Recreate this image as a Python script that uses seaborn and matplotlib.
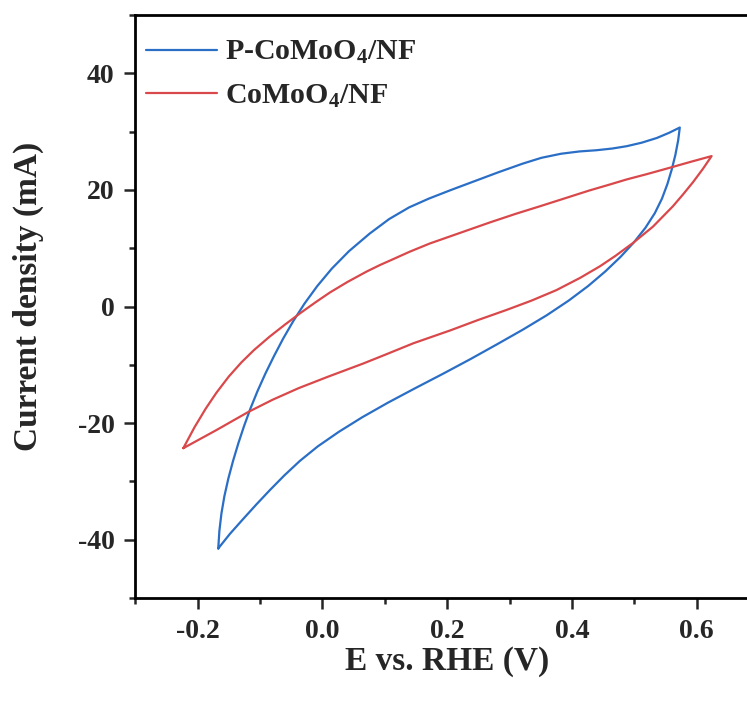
import numpy as np
import pandas as pd
import matplotlib
matplotlib.use("Agg")
import matplotlib.pyplot as plt
from matplotlib.ticker import MultipleLocator
import seaborn as sns

# Cyclic voltammograms (potential in V vs. RHE, current in mA), one closed loop each
p_label = "P-CoMoO$_4$/NF"
p_potential = [-0.1670, -0.1652, -0.1619, -0.1571, -0.1508, -0.1433, -0.1349, -0.1256,
               -0.1154, -0.1040, -0.0914, -0.0776, -0.0629, -0.0467, -0.0287, -0.0083,
               0.0151, 0.0427, 0.0757, 0.107, 0.139, 0.1705, 0.2065, 0.244, 0.2815,
               0.321, 0.351, 0.3825, 0.4125, 0.439, 0.465, 0.488, 0.512, 0.536, 0.556,
               0.573,
               0.5704, 0.5659, 0.5601, 0.5531, 0.5444, 0.5329, 0.5179, 0.4994, 0.4779,
               0.4534, 0.4259, 0.3947, 0.3597, 0.3209, 0.2797, 0.2377, 0.194, 0.149,
               0.105, 0.0638, 0.0263, -0.0075, -0.0363, -0.0613, -0.0843, -0.1063,
               -0.1275, -0.1483, -0.1670]
p_current = [-41.5, -38.5, -35.5, -32.5, -29.5, -26.5, -23.5, -20.5,
             -17.5, -14.5, -11.5, -8.5, -5.5, -2.5, 0.5, 3.5,
             6.5, 9.5, 12.5, 15.0, 17.0, 18.5, 20.0, 21.5, 23.0,
             24.5, 25.5, 26.2, 26.6, 26.8, 27.1, 27.5, 28.1, 28.9, 29.8,
             30.7,
             28.5, 26.0, 23.5, 21.0, 18.5, 16.0, 13.5, 11.0, 8.5,
             6.0, 3.5, 1.0, -1.5, -4.0, -6.5, -9.0, -11.5, -14.0,
             -16.5, -19.0, -21.5, -24.0, -26.5, -29.0, -31.5, -34.0,
             -36.5, -39.0, -41.5]

c_label = "CoMoO$_4$/NF"
c_potential = [-0.223, -0.205, -0.187, -0.170, -0.150, -0.130, -0.110, -0.085, -0.060,
               -0.035, -0.010, 0.012, 0.040, 0.071, 0.092, 0.113, 0.140, 0.172, 0.220,
               0.268, 0.310, 0.349, 0.390, 0.428, 0.460, 0.488, 0.520, 0.557, 0.590,
               0.624,
               0.610, 0.594, 0.578, 0.562, 0.530, 0.498, 0.470, 0.445, 0.413, 0.375,
               0.335, 0.295, 0.250, 0.205, 0.146, 0.100, 0.065, 0.010, -0.038, -0.080,
               -0.119, -0.170, -0.223]
c_current = [-24.3, -20.7, -17.5, -14.8, -12.0, -9.6, -7.5, -5.2, -3.1,
             -1.1, 0.8, 2.4, 4.2, 6.0, 7.1, 8.1, 9.4, 10.8, 12.6,
             14.4, 15.9, 17.2, 18.6, 19.9, 20.9, 21.8, 22.7, 23.8, 24.8,
             25.8,
             23.6, 21.3, 19.2, 17.2, 13.7, 10.9, 8.7, 6.9, 4.9, 2.8,
             1.0, -0.6, -2.3, -4.1, -6.3, -8.3, -9.8, -12.0, -14.0, -16.0,
             -18.1, -21.2, -24.3]

x_ticks = [-0.2, 0.0, 0.2, 0.4, 0.6]
y_ticks = [-40, -20, 0, 20, 40]
series_colors = {p_label: "#2a6ec6", c_label: "#d9484a"}

df = pd.concat([
    pd.DataFrame({"E": p_potential, "I": p_current, "sample": p_label}),
    pd.DataFrame({"E": c_potential, "I": c_current, "sample": c_label}),
], ignore_index=True)

sns.set_style("ticks")
plt.rcParams["font.family"] = ["Liberation Serif", "DejaVu Serif"]
plt.rcParams["font.weight"] = "bold"
plt.rcParams["mathtext.fontset"] = "custom"
plt.rcParams["mathtext.rm"] = "Liberation Serif:bold"
plt.rcParams["mathtext.default"] = "rm"

W, H = 747, 704
fig = plt.figure(figsize=(W / 100, H / 100), dpi=100)
ax_left, ax_right, ax_top, ax_bottom = 135.3, 759.0, 15.0, 598.0
ax = fig.add_axes([ax_left / W, 1 - ax_bottom / H,
                   (ax_right - ax_left) / W, (ax_bottom - ax_top) / H])

sns.lineplot(data=df, x="E", y="I", hue="sample", hue_order=[p_label, c_label],
             palette=series_colors, sort=False, estimator=None, units="sample",
             linewidth=1.6, ax=ax)
for line in ax.get_lines():
    line.set_solid_joinstyle("round")

ax.set_xlim(-0.3, 0.7)
ax.set_ylim(-50, 50)
ax.set_xticks(x_ticks)
ax.set_xticklabels([f"{v:.1f}" for v in x_ticks])
ax.set_yticks(y_ticks)
ax.set_yticklabels([f"{v:d}" for v in y_ticks])
ax.xaxis.set_minor_locator(MultipleLocator(0.1))
ax.yaxis.set_minor_locator(MultipleLocator(10))
ax.tick_params(which="major", direction="out", length=8, width=1.8, labelsize=20, pad=7)
ax.tick_params(which="minor", direction="out", length=4.5, width=1.8)
ax.tick_params(top=False, right=False, which="both")
for side in ["left", "bottom", "top", "right"]:
    ax.spines[side].set_linewidth(2.0)
    ax.spines[side].set_color("black")
for lab in ax.get_xticklabels() + ax.get_yticklabels():
    lab.set_fontweight("bold")

ax_w, ax_h = ax_right - ax_left, ax_bottom - ax_top
ax.set_xlabel("E vs. RHE (V)", fontsize=24, fontweight="bold")
ax.set_ylabel("Current density (mA)", fontsize=24, fontweight="bold")
ax.xaxis.set_label_coords(0.5 * (345 + 549) / ax_w - ax_left / ax_w, -(646 - ax_bottom) / ax_h)
ax.yaxis.set_label_coords(-(ax_left - 44) / ax_w, (ax_bottom - 296) / ax_h)

handles, labels = ax.get_legend_handles_labels()
for h in handles:
    h.set_solid_joinstyle("round")
ax.legend(handles, labels, loc="upper left",
          bbox_to_anchor=((146 - ax_left) / ax_w, (ax_bottom - 39) / ax_h),
          frameon=False, prop={"size": 21.5, "weight": "bold"},
          handlelength=2.37, handletextpad=0.27, labelspacing=0.56,
          borderaxespad=0.0, borderpad=0.0)

fig.savefig("out.png", dpi=100)
